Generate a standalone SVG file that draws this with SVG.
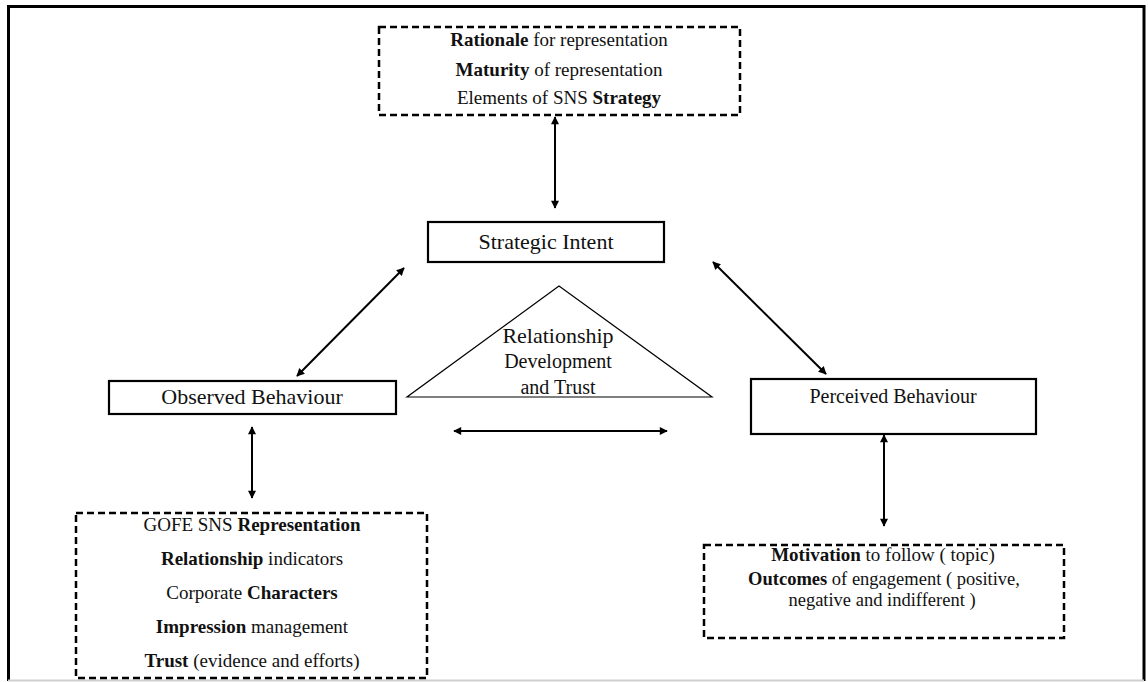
<svg xmlns="http://www.w3.org/2000/svg" width="1148" height="682" viewBox="0 0 1148 682">
  <defs>
    <marker id="arrow" viewBox="0 0 10 10" refX="9" refY="5" markerWidth="9" markerHeight="8" markerUnits="userSpaceOnUse" orient="auto-start-reverse">
      <path d="M0,0 L10,5 L0,10 z" fill="#000"/>
    </marker>
    <style>
      .lbl { font-family: 'Liberation Serif', 'DejaVu Serif', 'Times New Roman', serif; fill: #111; text-anchor: middle; }
      .b { font-weight: bold; }
      .box { fill: #fff; stroke: #000; stroke-width: 2.2; }
      .dash { fill: none; stroke: #000; stroke-width: 2.5; stroke-dasharray: 7 4; }
      .link { fill: none; stroke: #000; stroke-width: 2; marker-start: url(#arrow); marker-end: url(#arrow); }
      .t18 { font-size: 18.5px; }
      .t19 { font-size: 19px; }
      .t20 { font-size: 20px; }
      .t22 { font-size: 22px; }
    </style>
  </defs>

  <!-- frame -->
  <rect width="1148" height="682" fill="#fff"/>
  <path d="M8.5,681 V6.5 H1144 V681" fill="none" stroke="#000" stroke-width="3"/>
  <line x1="8" y1="680.5" x2="1144" y2="680.5" stroke="#cfcfcf" stroke-width="2"/>

  <!-- connectors -->
  <g id="connectors">
    <line class="link" x1="555" y1="117" x2="555" y2="208"/>
    <line class="link" x1="404" y1="268" x2="297" y2="376"/>
    <line class="link" x1="713" y1="262" x2="826" y2="374"/>
    <line class="link" x1="252" y1="427" x2="252" y2="498"/>
    <line class="link" x1="884" y1="435" x2="884" y2="526"/>
    <line class="link" x1="454" y1="431" x2="667" y2="431"/>
  </g>

  <g font-family="Liberation Serif, DejaVu Serif, serif">
  <!-- strategy elements -->
  <g id="strategy-elements">
    <rect class="dash" x="379" y="27" width="361" height="88"/>
    <text class="lbl t19" x="559" y="46"><tspan class="b">Rationale</tspan> for representation</text>
    <text class="lbl t19" x="559" y="76"><tspan class="b">Maturity</tspan> of representation</text>
    <text class="lbl t19" x="559" y="104">Elements of SNS <tspan class="b">Strategy</tspan></text>
  </g>

  <!-- strategic intent -->
  <g id="strategic-intent">
    <rect class="box" x="428" y="222" width="236" height="40"/>
    <text class="lbl t22" x="546" y="249">Strategic Intent</text>
  </g>

  <!-- relationship development triangle -->
  <g id="relationship-development">
    <polygon points="559,286 407,397 712,397" fill="#fff" stroke="#000" stroke-width="1.2"/>
    <text class="lbl t22" x="558" y="343">Relationship</text>
    <text class="lbl t20" x="558" y="368">Development</text>
    <text class="lbl t20" x="558" y="394">and Trust</text>
  </g>

  <!-- observed behaviour -->
  <g id="observed-behaviour">
    <rect class="box" x="109" y="381" width="287" height="33"/>
    <text class="lbl t22" x="252" y="404">Observed Behaviour</text>
  </g>

  <!-- perceived behaviour -->
  <g id="perceived-behaviour">
    <rect class="box" x="751" y="379" width="285" height="55"/>
    <text class="lbl t20" x="893" y="403">Perceived Behaviour</text>
  </g>

  <!-- representation elements -->
  <g id="representation-elements">
    <rect class="dash" x="76" y="513" width="351" height="165"/>
    <text class="lbl t19" x="252" y="531">GOFE SNS <tspan class="b">Representation</tspan></text>
    <text class="lbl t19" x="252" y="565"><tspan class="b">Relationship</tspan> indicators</text>
    <text class="lbl t19" x="252" y="599">Corporate <tspan class="b">Characters</tspan></text>
    <text class="lbl t19" x="252" y="633"><tspan class="b">Impression</tspan> management</text>
    <text class="lbl t19" x="252" y="667"><tspan class="b">Trust</tspan> (evidence and efforts)</text>
  </g>

  <!-- follower outcomes -->
  <g id="follower-outcomes">
    <rect class="dash" x="704" y="545" width="360" height="93"/>
    <text class="lbl t19" x="883" y="561"><tspan class="b">Motivation</tspan> to follow ( topic)</text>
    <text class="lbl t18" x="884" y="585"><tspan class="b">Outcomes</tspan> of engagement ( positive,</text>
    <text class="lbl t18" x="882" y="606">negative and indifferent )</text>
  </g>
  </g>
</svg>
